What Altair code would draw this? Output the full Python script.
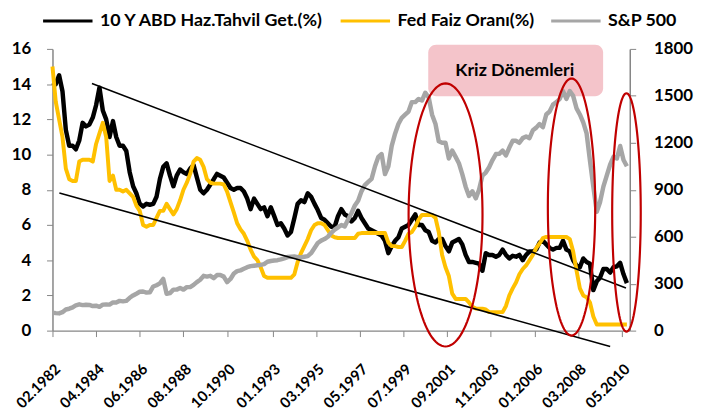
import altair as alt
import pandas as pd
import numpy as np

# ---------------- data (bi-monthly readings, Feb 1982 .. Aug 2010) ----------------
START = "1982-02-01"
N_POINTS = 172

bond_10y = [
    14.1, 14.0, 14.5, 13.6, 11.4, 10.5,   # 1982
    10.5, 10.3, 10.8, 11.8, 11.6, 11.7,   # 1983
    12.1, 12.8, 13.8, 12.5, 12.0, 11.0,   # 1984
    11.9, 11.0, 10.5, 10.5, 10.2, 9.0,    # 1985
    8.2, 7.8, 7.2, 7.05, 7.2, 7.15,       # 1986
    7.2, 7.6, 8.6, 9.3, 9.5, 8.8,         # 1987
    8.2, 8.8, 9.15, 9.0, 8.9, 9.2,        # 1988
    9.4, 8.7, 8.0, 7.8, 8.0, 8.3,         # 1989
    8.6, 8.9, 8.8, 8.7, 8.4, 8.1,         # 1990
    8.0, 8.1, 8.1, 7.9, 7.5, 6.9,         # 1991
    7.5, 7.2, 6.9, 7.0, 6.5, 7.0,         # 1992
    6.5, 6.0, 6.1, 5.8, 5.4, 5.6,         # 1993
    6.4, 7.2, 7.4, 7.3, 7.8, 7.6,         # 1994
    7.2, 6.85, 6.4, 6.3, 6.1, 5.9,        # 1995
    5.9, 6.5, 6.9, 6.6, 6.5, 6.2,         # 1996
    6.4, 6.8, 6.4, 6.1, 5.8, 5.7,         # 1997
    5.6, 5.5, 5.4, 5.1, 4.4, 4.8,         # 1998
    5.1, 5.3, 5.8, 5.9, 6.0, 6.3,         # 1999
    6.6, 6.0, 6.0, 5.7, 5.6, 5.1,         # 2000
    5.0, 5.2, 5.2, 4.8, 4.5, 5.0,         # 2001
    5.1, 5.2, 4.9, 4.3, 3.9, 3.9,         # 2002
    3.85, 3.8, 3.4, 4.4, 4.3, 4.3,        # 2003
    4.2, 4.3, 4.6, 4.3, 4.1, 4.25,        # 2004
    4.2, 4.3, 4.0, 4.3, 4.5, 4.5,         # 2005
    4.6, 5.0, 5.1, 4.9, 4.7, 4.6,         # 2006
    4.7, 4.7, 5.1, 4.6, 4.5, 4.0,         # 2007
    3.7, 3.6, 4.1, 3.9, 3.8, 2.3,         # 2008
    2.8, 3.0, 3.5, 3.5, 3.3, 3.6,         # 2009
    3.65, 3.85, 3.2, 2.7,                 # 2010
]

fed_rate = [
    15.0, 13.0, 12.0, 11.0, 9.2, 8.6,     # 1982
    8.5, 8.5, 9.6, 9.7, 9.7, 9.7,         # 1983
    9.6, 10.6, 11.2, 11.8, 11.0, 8.5,     # 1984
    8.8, 8.0, 8.0, 7.9, 8.0, 7.8,         # 1985
    7.6, 7.1, 6.8, 6.0, 5.9, 6.0,         # 1986
    6.0, 6.4, 6.8, 6.8, 7.2, 6.9,         # 1987
    6.6, 6.9, 7.4, 8.0, 8.4, 8.9,         # 1988
    9.6, 9.8, 9.7, 9.3, 8.6, 8.4,         # 1989
    8.35, 8.35, 8.35, 8.3, 7.9, 7.3,      # 1990
    6.7, 6.1, 5.75, 5.5, 5.1, 4.6,        # 1991
    4.2, 4.0, 3.6, 3.1, 3.0, 3.0,         # 1992
    3.0, 3.0, 3.0, 3.0, 3.0, 3.0,         # 1993
    3.2, 3.9, 4.4, 4.8, 5.2, 5.7,         # 1994
    6.0, 6.1, 6.1, 6.0, 5.7, 5.4,         # 1995
    5.3, 5.26, 5.26, 5.26, 5.26, 5.26,    # 1996
    5.26, 5.5, 5.54, 5.54, 5.54, 5.54,    # 1997
    5.54, 5.54, 5.54, 5.54, 5.0, 4.8,     # 1998
    4.8, 4.75, 4.75, 5.1, 5.5, 5.6,       # 1999
    5.9, 6.3, 6.57, 6.57, 6.57, 6.57,     # 2000
    6.4, 5.6, 4.3, 3.6, 3.1, 2.1,         # 2001
    1.8, 1.8, 1.8, 1.8, 1.6, 1.35,        # 2002
    1.25, 1.25, 1.25, 1.2, 1.05, 1.05,    # 2003
    1.05, 1.05, 1.05, 1.4, 2.0, 2.4,      # 2004
    2.75, 3.2, 3.5, 3.7, 4.0, 4.3,        # 2005
    4.7, 4.95, 5.25, 5.32, 5.32, 5.32,    # 2006
    5.32, 5.32, 5.32, 5.32, 5.2, 4.5,     # 2007
    3.4, 2.4, 2.0, 1.9, 1.6, 0.8,         # 2008
    0.35, 0.35, 0.35, 0.35, 0.35, 0.35,   # 2009
    0.35, 0.35, 0.35, 0.35,               # 2010
]

sp500 = [
    115, 112, 110, 118, 135, 140,         # 1982
    148, 162, 168, 163, 165, 164,         # 1983
    157, 159, 152, 166, 167, 166,         # 1984
    180, 180, 190, 187, 190, 210,         # 1985
    225, 236, 248, 250, 243, 245,         # 1986
    282, 290, 302, 330, 235, 240,         # 1987
    262, 262, 272, 262, 278, 278,         # 1988
    292, 310, 325, 350, 345, 350,         # 1989
    335, 355, 355, 345, 310, 330,         # 1990
    365, 380, 385, 395, 405, 412,         # 1991
    415, 418, 420, 425, 440, 445,         # 1992
    448, 450, 455, 462, 470, 472,         # 1993
    474, 470, 468, 472, 476, 495,         # 1994
    528, 560, 575, 585, 600, 625,         # 1995
    645, 660, 675, 665, 710, 750,         # 1996
    800, 830, 890, 930, 950, 970,         # 1997
    1050, 1110, 1128, 1000, 1050, 1180,   # 1998
    1260, 1320, 1360, 1380, 1400, 1460,   # 1999
    1460, 1480, 1470, 1520, 1490, 1380,   # 2000
    1320, 1210, 1200, 1200, 1100, 1150,   # 2001
    1110, 1070, 1000, 920, 860, 890,      # 2002
    845, 900, 990, 1010, 1044, 1090,      # 2003
    1128, 1130, 1150, 1120, 1170, 1213,   # 2004
    1213, 1200, 1230, 1240, 1230, 1280,   # 2005
    1297, 1320, 1300, 1381, 1400, 1444,   # 2006
    1460, 1480, 1530, 1480, 1530, 1500,   # 2007
    1420, 1381, 1330, 1260, 1086, 920,    # 2008
    760, 820, 920, 990, 1060, 1110,       # 2009
    1100, 1180, 1090, 1050,               # 2010
]

series_names = ["10 Y ABD Haz.Tahvil Get.(%)", "Fed Faiz Oranı(%)", "S&P 500"]
series_colors = ["#000000", "#FFC000", "#A6A6A6"]

tick_dates = [(1982, 2), (1984, 4), (1986, 6), (1988, 8), (1990, 10), (1993, 1), (1995, 3),
              (1997, 5), (1999, 7), (2001, 9), (2003, 11), (2006, 1), (2008, 3), (2010, 5)]

# annotations: (month offset from Feb 1982, value on left axis)
trend_upper = [(23.5, 14.04), (341.4, 2.42)]
trend_lower = [(4.1, 7.81), (332.0, -0.9)]
# ellipses: centre month, centre value, half width (months), half height (left units)
ellipses = [(234.0, 6.57, 22.0, 7.47), (309.0, 7.02, 14.1, 7.30), (341.7, 6.71, 8.5, 6.77)]
box_extent = (223.7, 327.8, 13.31, 16.24)
box_label = "Kriz Dönemleri"
box_label_pos = (275.2, 14.72)

# ---------------- build tables ----------------
base = pd.Timestamp(START)


def month_to_ts(m):
    return base + pd.Timedelta(days=float(m) * 30.4369)


dates = pd.date_range(START, periods=N_POINTS, freq="2MS")
df_bond = pd.DataFrame({"date": dates, "value": bond_10y[:N_POINTS], "series": series_names[0]})
df_fed = pd.DataFrame({"date": dates, "value": fed_rate[:N_POINTS], "series": series_names[1]})
df_sp = pd.DataFrame({"date": dates, "value": sp500[:N_POINTS], "series": series_names[2]})

trend_rows = []
for i, line in enumerate([trend_upper, trend_lower]):
    for m, v in line:
        trend_rows.append({"id": i, "date": month_to_ts(m), "value": v})
df_trend = pd.DataFrame(trend_rows)

ell_rows = []
theta = np.linspace(0, 2 * np.pi, 121)
for i, (cm, cv, hw, hh) in enumerate(ellipses):
    for j, t in enumerate(theta):
        ell_rows.append({"id": i, "t": j, "date": month_to_ts(cm + hw * np.cos(t)),
                         "value": cv + hh * np.sin(t)})
df_ell = pd.DataFrame(ell_rows)

df_box = pd.DataFrame([{"date": month_to_ts(box_extent[0]), "x2": month_to_ts(box_extent[1]),
                        "value": box_extent[2], "y2": box_extent[3]}])
df_lab = pd.DataFrame([{"date": month_to_ts(box_label_pos[0]), "value": box_label_pos[1], "text": box_label}])

FONT = "Lato"
AX = "#868686"

x_scale = alt.Scale(domain=[alt.DateTime(year=1982, month=2, date=1),
                            alt.DateTime(year=2010, month=9, date=22)], nice=False)
x_axis = alt.Axis(values=[alt.DateTime(year=y, month=m, date=1) for y, m in tick_dates],
                  format="%m.%Y", labelAngle=-45, labelAlign="right", labelBaseline="middle",
                  labelPadding=30, labelOffset=5, tickSize=6, tickColor=AX, domainColor=AX,
                  domainWidth=1.5, grid=False, title=None, labelFont=FONT, labelFontSize=15,
                  labelFontWeight="bold", labelColor="black", labelOverlap=False, labelFlush=False)
X = alt.X("date:T", scale=x_scale, axis=x_axis)

yl_scale = alt.Scale(domain=[0, 16], nice=False)
yl_axis = alt.Axis(values=list(range(0, 17, 2)), grid=False, title=None, tickSize=6, tickColor=AX,
                   domainColor=AX, domainWidth=1.5, labelPadding=16, labelFont=FONT, labelFontSize=17,
                   labelFontWeight="bold", labelColor="black")
yr_axis = alt.Axis(orient="right", values=list(range(0, 1801, 300)), format="d", grid=False, title=None,
                   tickSize=6, tickColor=AX, domainColor=AX, domainWidth=1.5, labelPadding=18,
                   labelFont=FONT, labelFontSize=17, labelFontWeight="bold", labelColor="black")
y_plain = alt.Y("value:Q", scale=yl_scale, axis=None)

color = alt.Color("series:N", scale=alt.Scale(domain=series_names, range=series_colors),
                  legend=alt.Legend(title=None, orient="none", legendX=-11, legendY=-55,
                                    direction="horizontal", symbolType="stroke", symbolSize=2500,
                                    symbolStrokeWidth=3, labelFont=FONT, labelFontSize=18,
                                    labelFontWeight="bold", labelColor="black", columnPadding=10,
                                    labelOffset=6, labelLimit=400))

box = alt.Chart(df_box).mark_rect(fill="#F4C4CA", cornerRadius=8).encode(
    x=X, x2="x2:T", y=y_plain, y2="y2:Q")

bond = alt.Chart(df_bond).mark_line(strokeWidth=4.5, strokeJoin="round").encode(
    x=X, y=alt.Y("value:Q", scale=yl_scale, axis=yl_axis), color=color)

fed = alt.Chart(df_fed).mark_line(strokeWidth=4, strokeJoin="round").encode(
    x=X, y=y_plain, color=color)

sp = alt.Chart(df_sp).mark_line(strokeWidth=4.5, strokeJoin="round").encode(
    x=X, y=alt.Y("value:Q", scale=alt.Scale(domain=[0, 1800], nice=False), axis=yr_axis),
    color=color)

trend = alt.Chart(df_trend).mark_line(color="black", strokeWidth=1.6).encode(
    x=X, y=y_plain, detail="id:N")

ell = alt.Chart(df_ell).mark_line(color="#C00000", strokeWidth=2.2).encode(
    x=X, y=y_plain, detail="id:N", order="t:Q")

lab = alt.Chart(df_lab).mark_text(font=FONT, fontSize=18, fontWeight="bold", color="black").encode(
    x=X, y=y_plain, text="text:N")

chart = alt.layer(box, bond, fed, sp, trend, ell, lab).resolve_scale(y="independent").properties(
    width=584, height=285,
    autosize=alt.AutoSizeParams(type="none"),
    padding={"left": 45, "top": 39, "right": 66, "bottom": 85},
).configure_view(stroke=None)

chart.save("out.html", embed_options={"renderer": "svg", "actions": False})
